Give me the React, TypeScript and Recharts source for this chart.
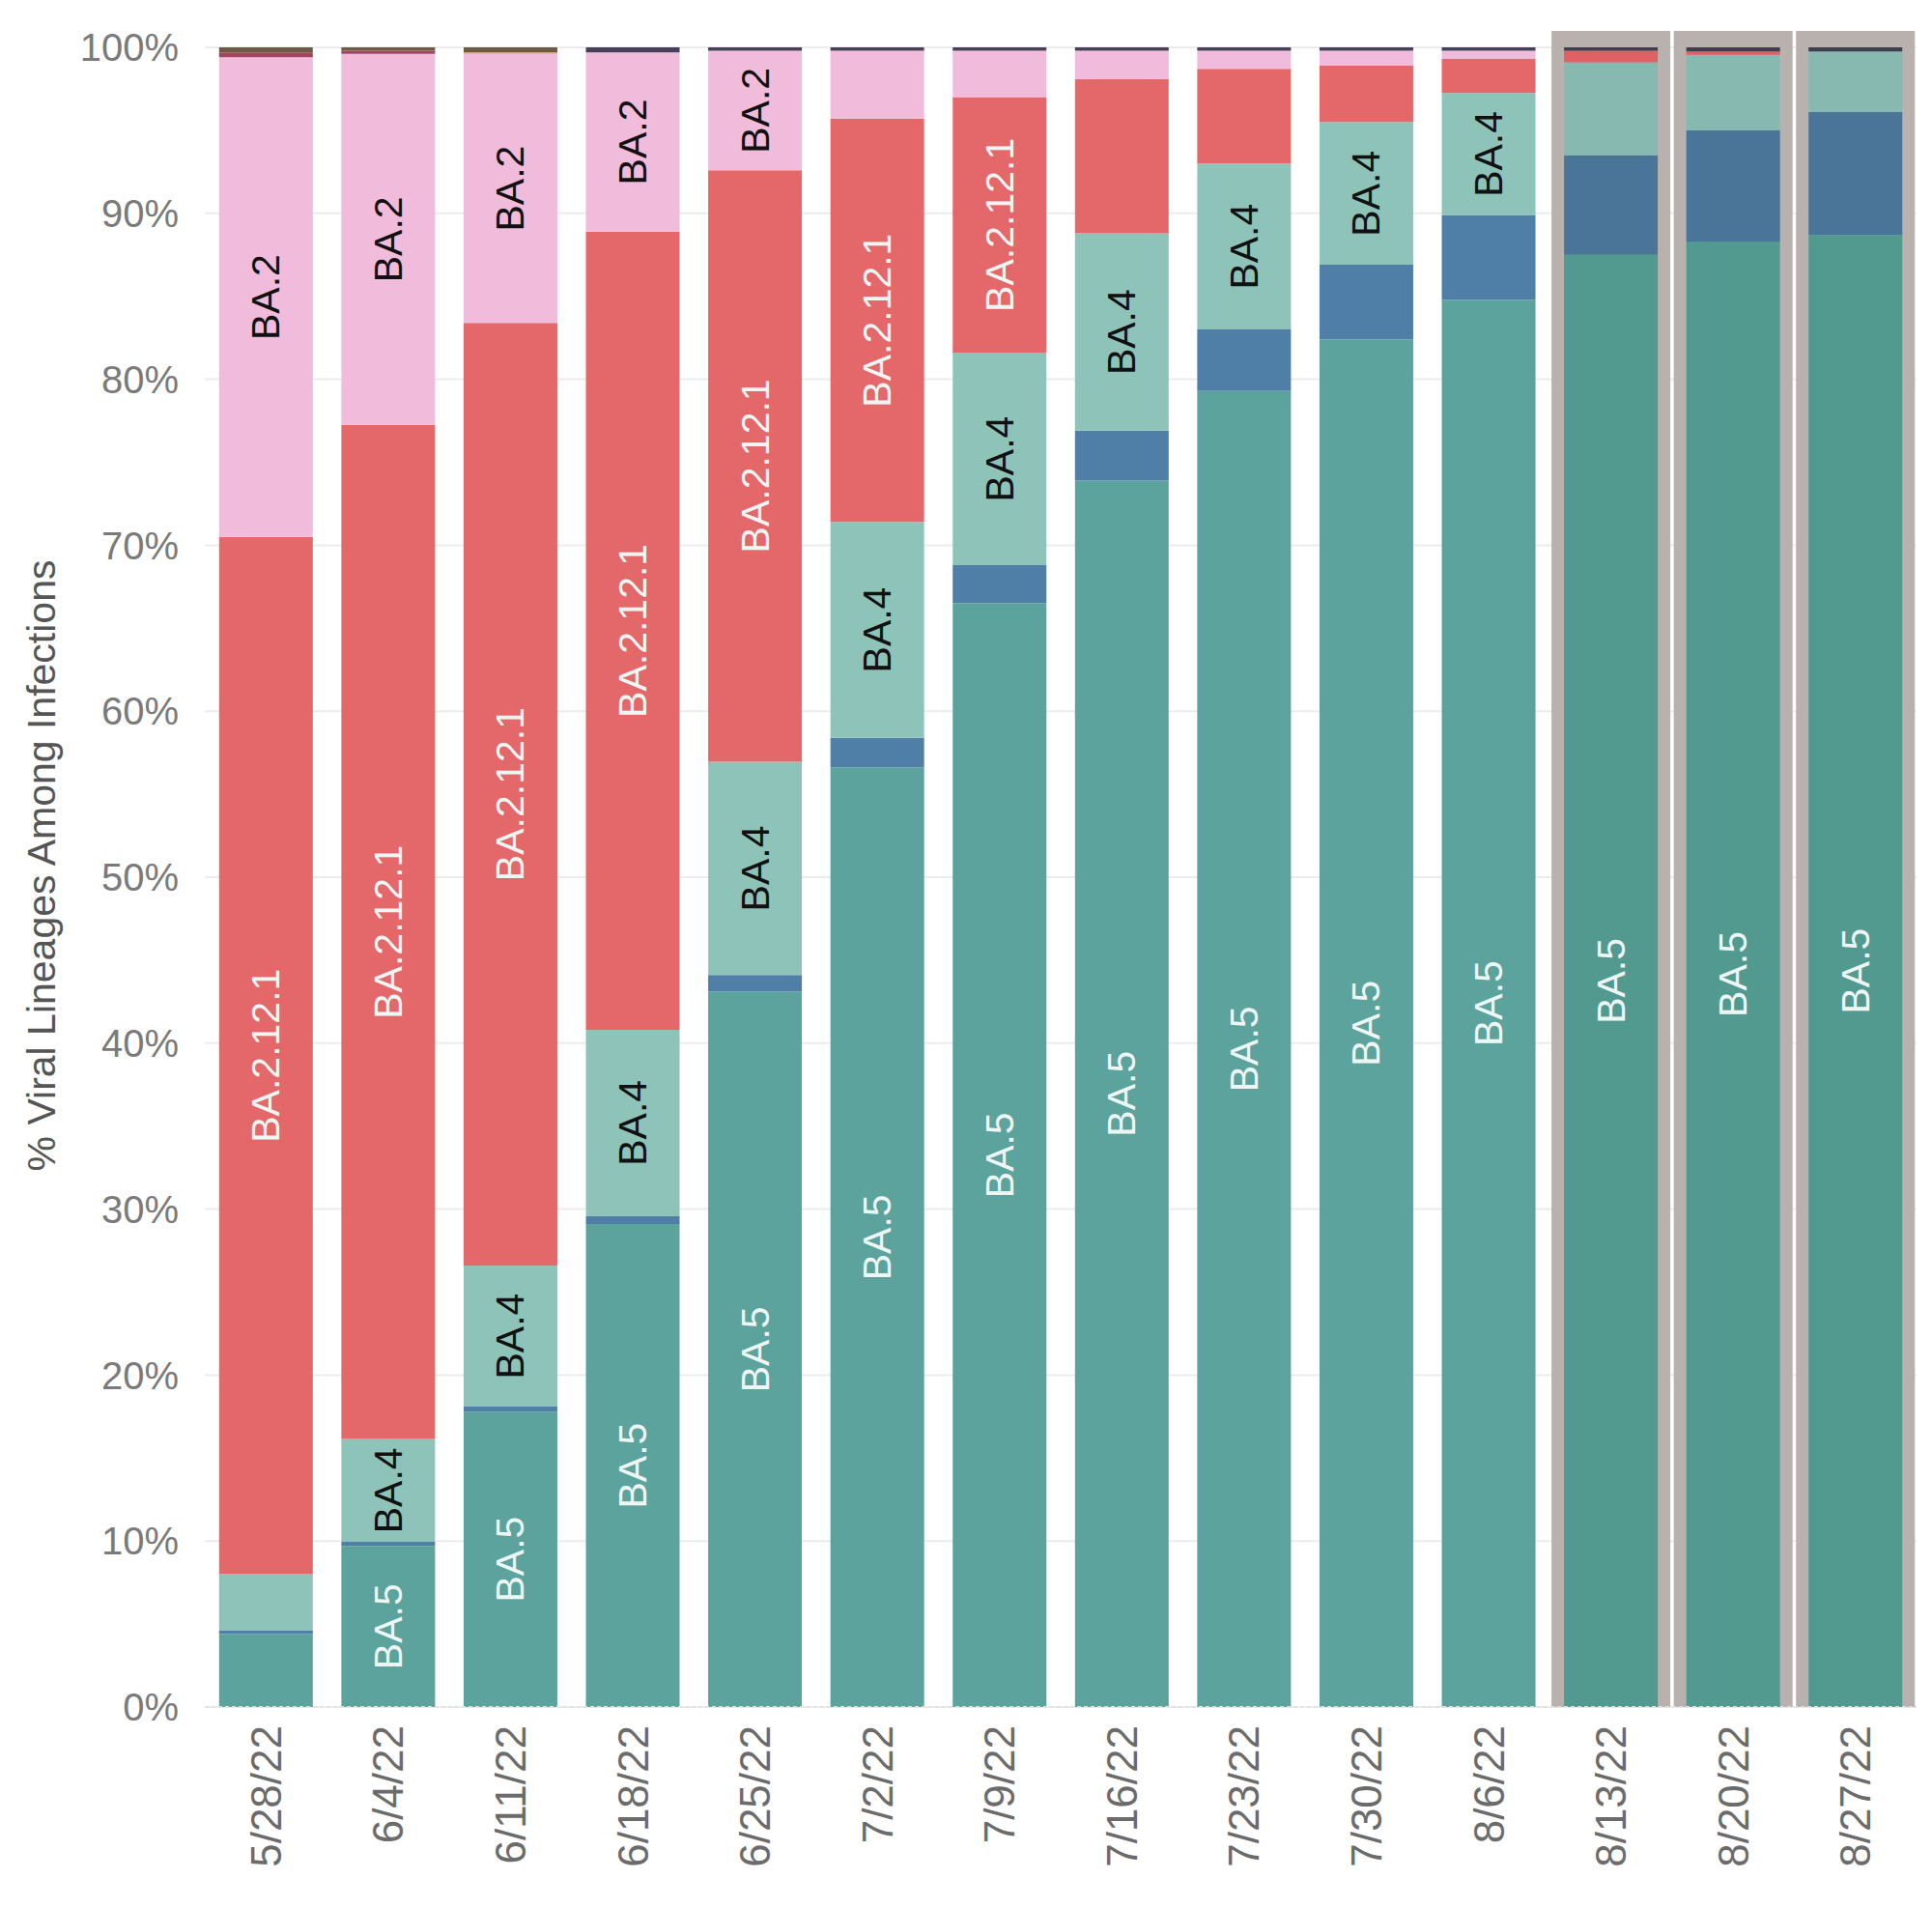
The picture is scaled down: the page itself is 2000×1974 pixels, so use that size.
import React from "react";
import { BarChart, Bar, XAxis, YAxis, CartesianGrid, Cell, LabelList } from "recharts";

// week ending dates
const weeks = [
  "5/28/22", "6/4/22", "6/11/22", "6/18/22", "6/25/22", "7/2/22", "7/9/22",
  "7/16/22", "7/23/22", "7/30/22", "8/6/22", "8/13/22", "8/20/22", "8/27/22",
];
// last three weeks are nowcast projections (boxed in grey)
const nowcastWeeks = ["8/13/22", "8/20/22", "8/27/22"];
const yTicks = [0, 10, 20, 30, 40, 50, 60, 70, 80, 90, 100];

// % share per lineage, stacked bottom to top
const ba5 = [4.4, 9.7, 17.8, 29.1, 43.1, 56.6, 66.5, 73.9, 79.3, 82.4, 84.8, 87.5, 88.3, 88.7];
const ba46 = [0.2, 0.25, 0.3, 0.5, 1.0, 1.8, 2.3, 3.0, 3.7, 4.5, 5.1, 6.0, 6.7, 7.4];
const ba4 = [3.4, 6.2, 8.5, 11.2, 12.85, 13.0, 12.8, 11.9, 10.0, 8.6, 7.35, 5.6, 4.55, 3.65];
const ba2121 = [62.5, 61.1, 56.8, 48.1, 35.65, 24.3, 15.4, 9.3, 5.7, 3.4, 2.05, 0.7, 0.2, 0];
const ba2 = [28.9, 22.35, 16.2, 10.8, 7.2, 4.1, 2.8, 1.7, 1.1, 0.9, 0.5, 0, 0, 0];
const ba11 = [0.3, 0.2, 0, 0, 0, 0, 0, 0, 0, 0, 0, 0, 0, 0];
const ba275 = [0, 0, 0.1, 0, 0, 0, 0, 0, 0, 0, 0, 0, 0, 0];
const other = [0, 0, 0, 0.3, 0.2, 0.2, 0.2, 0.2, 0.2, 0.2, 0.2, 0.2, 0.25, 0.25];
const b11529 = [0.3, 0.2, 0.3, 0, 0, 0, 0, 0, 0, 0, 0, 0, 0, 0];

const series = [
  { key: "BA5", name: "BA.5", values: ba5, fill: "#5ca39d", nowFill: "#52998f", text: "#eef6f4" },
  { key: "BA46", name: "BA.4.6", values: ba46, fill: "#4f7ea6", nowFill: "#4a7598", text: "" },
  { key: "BA4", name: "BA.4", values: ba4, fill: "#8ec3b9", nowFill: "#87b9b0", text: "#111111" },
  { key: "BA2121", name: "BA.2.12.1", values: ba2121, fill: "#e46769", nowFill: "#de6163", text: "#eef6f4" },
  { key: "BA2", name: "BA.2", values: ba2, fill: "#f1bcdc", nowFill: "#f1bcdc", text: "#111111" },
  { key: "BA11", name: "BA.1.1", values: ba11, fill: "#a2455f", nowFill: "#a2455f", text: "" },
  { key: "BA275", name: "BA.2.75", values: ba275, fill: "#e9a06a", nowFill: "#e9a06a", text: "" },
  { key: "Other", name: "Other", values: other, fill: "#483f5a", nowFill: "#3f3e4e", text: "" },
  { key: "B11529", name: "B.1.1.529", values: b11529, fill: "#6d5b45", nowFill: "#6d5b45", text: "" },
];

const data = weeks.map((week, i) => {
  const row: Record<string, any> = { week };
  series.forEach((s) => (row[s.key] = s.values[i]));
  return row;
});

const FONT = "'Liberation Sans', Arial, Helvetica, sans-serif";
const LABEL_SIZE = 41;

// rough Arial advance widths, used to decide if a name fits in its segment
const charW: Record<string, number> = { B: 0.667, A: 0.667, ".": 0.278 };
const textWidth = (s: string, size: number) =>
  s.split("").reduce((w, c) => w + (charW[c] ?? 0.556), 0) * size;

const segmentLabel = (name: string, color: string) => (props: any) => {
  const vb = props.viewBox ?? props;
  const x = Number(vb.x), y = Number(vb.y), w = Number(vb.width), h = Number(vb.height);
  if (!(Math.abs(h) >= textWidth(name, LABEL_SIZE) + 12)) return null;
  const cx = x + w / 2;
  const cy = y + h / 2;
  return (
    <text
      x={cx}
      y={cy}
      transform={`rotate(-90 ${cx} ${cy})`}
      textAnchor="middle"
      dominantBaseline="central"
      fontSize={LABEL_SIZE}
      fill={color}
    >
      {name}
    </text>
  );
};

const nowcastBox = (props: any) => {
  const { x, y, width, height, index } = props;
  if (!nowcastWeeks.includes(weeks[index])) return <g />;
  const side = 13;
  return (
    <g>
      <rect x={x - side} y={y - 17} width={width + side * 2} height={height + 17} fill="#b8b1ad" />
      <rect x={x - side} y={0} width={width + side * 2 + 4} height={4} fill="#b8b1ad" />
    </g>
  );
};

const WeekTick = (props: any) => {
  const { x, y, payload } = props;
  return (
    <text
      transform={`translate(${x},${y + 11}) rotate(-90)`}
      textAnchor="end"
      dominantBaseline="central"
      fontSize={44}
      fill="#6b6b6b"
    >
      {payload.value}
    </text>
  );
};

const yTitle = (props: any) => {
  const vb = props.viewBox;
  const cx = 43;
  const cy = vb.y + vb.height / 2 - 12;
  return (
    <text
      x={cx}
      y={cy}
      transform={`rotate(-90 ${cx} ${cy})`}
      textAnchor="middle"
      dominantBaseline="central"
      fontSize={41}
      fill="#555555"
    >
      % Viral Lineages Among Infections
    </text>
  );
};

export default function App() {
  return (
    <div style={{ margin: -8, width: 2000, height: 1974, background: "#fff", fontFamily: FONT }}>
      <BarChart
        width={2000}
        height={1974}
        data={data}
        margin={{ top: 49, right: 16, bottom: 7, left: 0 }}
        barCategoryGap="11.7%"
      >
        <CartesianGrid vertical={false} stroke="#ececec" strokeWidth={2} />
        <XAxis
          dataKey="week"
          height={200}
          interval={0}
          tick={<WeekTick />}
          tickLine={false}
          axisLine={{ stroke: "#e2e2e2", strokeDasharray: "4 3", strokeWidth: 2 }}
        />
        <YAxis
          width={212}
          domain={[0, 100]}
          ticks={yTicks}
          allowDataOverflow
          tickFormatter={(v: number) => `${v}%`}
          tick={{ fontSize: 40, fill: "#7a7a7a" }}
          tickMargin={21}
          axisLine={false}
          tickLine={false}
          label={yTitle}
        />
        {series.map((s, si) => (
          <Bar
            key={s.key}
            dataKey={s.key}
            name={s.name}
            stackId="a"
            isAnimationActive={false}
            background={si === 0 ? nowcastBox : undefined}
          >
            {data.map((d) => (
              <Cell key={d.week} fill={nowcastWeeks.includes(d.week) ? s.nowFill : s.fill} />
            ))}
            {s.text && s.key !== "BA46" ? (
              <LabelList dataKey={s.key} content={segmentLabel(s.name, s.text)} />
            ) : null}
          </Bar>
        ))}
      </BarChart>
    </div>
  );
}
